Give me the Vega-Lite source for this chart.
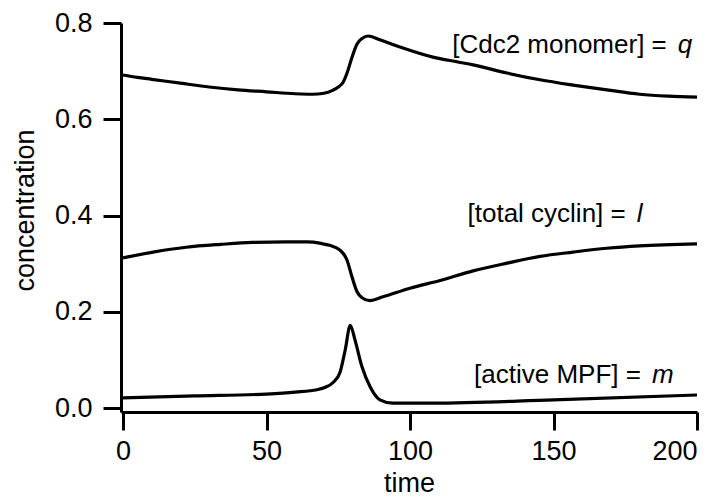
{
  "$schema": "https://vega.github.io/schema/vega-lite/v6.json",
  "width": 576,
  "height": 389,
  "autosize": {"type": "none"},
  "padding": {"left": 121, "top": 23, "right": 22, "bottom": 85},
  "background": "white",
  "config": {
    "view": {"stroke": null},
    "font": "Liberation Sans",
    "axis": {
      "grid": false,
      "domainColor": "#000",
      "domainWidth": 3,
      "tickColor": "#000",
      "tickWidth": 3,
      "tickSize": 18,
      "labelColor": "#000",
      "labelFont": "Liberation Sans",
      "labelFontSize": 27,
      "titleColor": "#000",
      "titleFont": "Liberation Sans",
      "titleFontSize": 27,
      "titleFontWeight": "normal"
    }
  },
  "datasets": {
    "curves": [
      {"t": 0, "c": 0.692, "s": "q"},
      {"t": 5, "c": 0.687, "s": "q"},
      {"t": 10, "c": 0.683, "s": "q"},
      {"t": 20, "c": 0.675, "s": "q"},
      {"t": 30, "c": 0.667, "s": "q"},
      {"t": 40, "c": 0.661, "s": "q"},
      {"t": 50, "c": 0.657, "s": "q"},
      {"t": 60, "c": 0.653, "s": "q"},
      {"t": 66, "c": 0.652, "s": "q"},
      {"t": 70, "c": 0.654, "s": "q"},
      {"t": 73, "c": 0.66, "s": "q"},
      {"t": 75, "c": 0.667, "s": "q"},
      {"t": 76.7, "c": 0.677, "s": "q"},
      {"t": 78, "c": 0.695, "s": "q"},
      {"t": 79.8, "c": 0.729, "s": "q"},
      {"t": 81.5, "c": 0.756, "s": "q"},
      {"t": 83.3, "c": 0.768, "s": "q"},
      {"t": 85.4, "c": 0.773, "s": "q"},
      {"t": 87, "c": 0.771, "s": "q"},
      {"t": 89.5, "c": 0.765, "s": "q"},
      {"t": 96.5, "c": 0.75, "s": "q"},
      {"t": 108, "c": 0.729, "s": "q"},
      {"t": 116.7, "c": 0.719, "s": "q"},
      {"t": 122, "c": 0.713, "s": "q"},
      {"t": 133.8, "c": 0.696, "s": "q"},
      {"t": 145.3, "c": 0.682, "s": "q"},
      {"t": 156.8, "c": 0.671, "s": "q"},
      {"t": 168.6, "c": 0.661, "s": "q"},
      {"t": 180, "c": 0.652, "s": "q"},
      {"t": 190, "c": 0.648, "s": "q"},
      {"t": 200, "c": 0.646, "s": "q"},

      {"t": 0, "c": 0.312, "s": "l"},
      {"t": 10.5, "c": 0.324, "s": "l"},
      {"t": 22, "c": 0.334, "s": "l"},
      {"t": 34, "c": 0.340, "s": "l"},
      {"t": 45, "c": 0.344, "s": "l"},
      {"t": 57, "c": 0.345, "s": "l"},
      {"t": 64, "c": 0.345, "s": "l"},
      {"t": 69, "c": 0.342, "s": "l"},
      {"t": 72, "c": 0.338, "s": "l"},
      {"t": 75.6, "c": 0.328, "s": "l"},
      {"t": 78, "c": 0.308, "s": "l"},
      {"t": 79.8, "c": 0.272, "s": "l"},
      {"t": 81.5, "c": 0.242, "s": "l"},
      {"t": 83.3, "c": 0.229, "s": "l"},
      {"t": 86, "c": 0.223, "s": "l"},
      {"t": 90.6, "c": 0.231, "s": "l"},
      {"t": 100, "c": 0.249, "s": "l"},
      {"t": 110.5, "c": 0.265, "s": "l"},
      {"t": 122, "c": 0.285, "s": "l"},
      {"t": 133.8, "c": 0.301, "s": "l"},
      {"t": 145.3, "c": 0.315, "s": "l"},
      {"t": 156.8, "c": 0.324, "s": "l"},
      {"t": 168.6, "c": 0.332, "s": "l"},
      {"t": 180, "c": 0.337, "s": "l"},
      {"t": 200, "c": 0.341, "s": "l"},

      {"t": 0, "c": 0.021, "s": "m"},
      {"t": 25, "c": 0.025, "s": "m"},
      {"t": 50, "c": 0.029, "s": "m"},
      {"t": 60, "c": 0.033, "s": "m"},
      {"t": 67.6, "c": 0.038, "s": "m"},
      {"t": 70.5, "c": 0.043, "s": "m"},
      {"t": 73.2, "c": 0.053, "s": "m"},
      {"t": 75.6, "c": 0.074, "s": "m"},
      {"t": 77.4, "c": 0.12, "s": "m"},
      {"t": 79.2, "c": 0.172, "s": "m"},
      {"t": 80.8, "c": 0.142, "s": "m"},
      {"t": 83.3, "c": 0.085, "s": "m"},
      {"t": 86.1, "c": 0.044, "s": "m"},
      {"t": 89.5, "c": 0.017, "s": "m"},
      {"t": 94, "c": 0.01, "s": "m"},
      {"t": 108, "c": 0.01, "s": "m"},
      {"t": 150, "c": 0.017, "s": "m"},
      {"t": 200, "c": 0.027, "s": "m"}
    ],
    "labels": [
      {"t": 193.3, "c": 0.737, "name": "[Cdc2 monomer] =", "sym": "q"},
      {"t": 179.0, "c": 0.387, "name": "[total cyclin] =", "sym": "l"},
      {"t": 184.3, "c": 0.0513, "name": "[active MPF] =", "sym": "m"}
    ]
  },
  "layer": [
    {
      "data": {"name": "curves"},
      "mark": {"type": "line", "color": "#000", "strokeWidth": 3.2, "interpolate": "monotone"},
      "encoding": {
        "x": {
          "field": "t", "type": "quantitative",
          "scale": {"domain": [-0.7, 200], "nice": false, "zero": false},
          "axis": {
            "values": [0, 50, 100, 150, 200],
            "title": "time",
            "labelPadding": 8,
            "titleBaseline": "alphabetic",
            "titleY": 79
          }
        },
        "y": {
          "field": "c", "type": "quantitative",
          "scale": {"domain": [-0.0083, 0.8], "nice": false, "zero": false},
          "axis": {
            "values": [0, 0.2, 0.4, 0.6, 0.8],
            "format": ".1f",
            "title": "concentration",
            "labelPadding": 11,
            "titleAngle": -90,
            "titleBaseline": "alphabetic",
            "titleAlign": "center",
            "titleX": -88,
            "titleY": 187
          }
        },
        "detail": {"field": "s"}
      }
    },
    {
      "data": {"name": "labels"},
      "mark": {"type": "text", "align": "right", "baseline": "alphabetic", "dx": -11, "fontSize": 26, "font": "Liberation Sans", "color": "#000"},
      "encoding": {
        "x": {"field": "t", "type": "quantitative"},
        "y": {"field": "c", "type": "quantitative"},
        "text": {"field": "name"}
      }
    },
    {
      "data": {"name": "labels"},
      "mark": {"type": "text", "align": "left", "baseline": "alphabetic", "fontSize": 26, "fontStyle": "italic", "font": "Liberation Sans", "color": "#000"},
      "encoding": {
        "x": {"field": "t", "type": "quantitative"},
        "y": {"field": "c", "type": "quantitative"},
        "text": {"field": "sym"}
      }
    }
  ]
}
